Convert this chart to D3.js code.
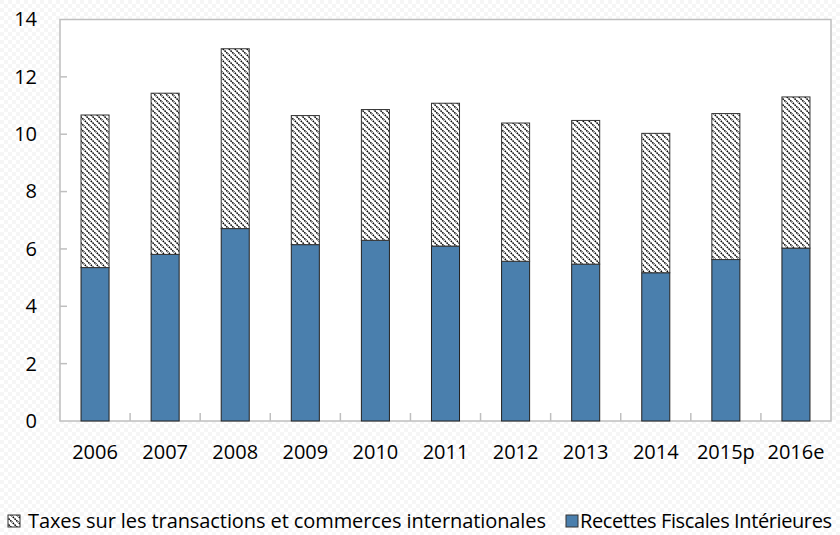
<!DOCTYPE html>
<html>
<head>
<meta charset="utf-8">
<script src="https://cdn.jsdelivr.net/npm/d3@7"></script>
<style>
  body { margin: 0; background: #fff; }
  svg text { font-family: "Open Sans", "Noto Sans", sans-serif; fill: #000; }
</style>
</head>
<body>
<div id="chart"></div>
<script>
// Données
const years = ["2006", "2007", "2008", "2009", "2010", "2011", "2012", "2013", "2014", "2015p", "2016e"];
const recettesInterieures = [5.35, 5.81, 6.71, 6.15, 6.30, 6.10, 5.57, 5.47, 5.17, 5.63, 6.03];
const totaux = [10.67, 11.43, 12.98, 10.65, 10.86, 11.08, 10.39, 10.48, 10.03, 10.72, 11.30];
const taxesCommerce = totaux.map((t, i) => +(t - recettesInterieures[i]).toFixed(2));
const yTicks = [0, 2, 4, 6, 8, 10, 12, 14];
const legendLabels = ["Taxes sur les transactions et commerces internationales", "Recettes Fiscales Intérieures"];

const width = 840, height = 535;
const plot = { left: 60, right: 831, top: 19.5, bottom: 421 };
const blue = "#4a7fad";

const svg = d3.select("#chart")
  .append("svg")
  .attr("width", width)
  .attr("height", height);

const defs = svg.append("defs");

// Fond texturé léger
const bg = defs.append("pattern")
  .attr("id", "bg")
  .attr("width", 8).attr("height", 8)
  .attr("patternUnits", "userSpaceOnUse");
bg.append("rect").attr("width", 8).attr("height", 8).attr("fill", "#fff");
bg.append("rect").attr("width", 4).attr("height", 4).attr("fill", "#f6f6f6");
bg.append("rect").attr("x", 4).attr("y", 4).attr("width", 4).attr("height", 4).attr("fill", "#f6f6f6");

// Hachures (diagonales descendantes)
const hatch = defs.append("pattern")
  .attr("id", "hatch")
  .attr("width", 6).attr("height", 6)
  .attr("patternUnits", "userSpaceOnUse");
hatch.append("rect").attr("width", 6).attr("height", 6).attr("fill", "#fff");
hatch.append("path")
  .attr("d", "M-1,-1 L7,7 M-4,2 L2,8 M4,-2 L8,2")
  .attr("stroke", "#000")
  .attr("stroke-width", 1.5)
  .attr("stroke-dasharray", "1.6,0.9");

svg.append("rect")
  .attr("width", width).attr("height", height)
  .attr("fill", "url(#bg)");

svg.append("rect")
  .attr("x", plot.left).attr("y", plot.top)
  .attr("width", plot.right - plot.left)
  .attr("height", plot.bottom - plot.top)
  .attr("fill", "#fff")
  .attr("stroke", "#bfbfbf")
  .attr("stroke-width", 1.5);

// Échelles
const x = d3.scaleBand()
  .domain(years)
  .range([plot.left, plot.right])
  .paddingInner(0.6)
  .paddingOuter(0.3);

const y = d3.scaleLinear()
  .domain([0, 14])
  .range([plot.bottom, plot.top]);

// Axe Y
const yAxis = svg.append("g")
  .attr("transform", `translate(${plot.left},0)`)
  .call(d3.axisLeft(y).tickValues(yTicks).tickSize(0).tickPadding(23));
yAxis.select(".domain").remove();
yAxis.selectAll("text").attr("font-size", "20px");

svg.selectAll(".ytick")
  .data(yTicks.filter(d => d > 0 && d < 14))
  .enter()
  .append("line")
  .attr("x1", plot.left).attr("x2", plot.left + 7)
  .attr("y1", d => y(d)).attr("y2", d => y(d))
  .attr("stroke", "#bfbfbf").attr("stroke-width", 1.5);

// Axe X
const xAxis = svg.append("g")
  .attr("transform", `translate(0,${plot.bottom})`)
  .call(d3.axisBottom(x).tickSize(0).tickPadding(24));
xAxis.select(".domain").remove();
xAxis.selectAll("text").attr("font-size", "20px");

svg.selectAll(".xtick")
  .data(years.slice(1))
  .enter()
  .append("line")
  .attr("x1", d => x(d) - x.step() * x.paddingInner() / 2)
  .attr("x2", d => x(d) - x.step() * x.paddingInner() / 2)
  .attr("y1", plot.bottom).attr("y2", plot.bottom - 8)
  .attr("stroke", "#bfbfbf").attr("stroke-width", 1.5);

// Barres empilées
svg.selectAll(".bar-int")
  .data(years)
  .enter()
  .append("rect")
  .attr("x", d => x(d))
  .attr("y", (d, i) => y(recettesInterieures[i]))
  .attr("width", x.bandwidth())
  .attr("height", (d, i) => y(0) - y(recettesInterieures[i]))
  .attr("fill", blue)
  .attr("stroke", "#222")
  .attr("stroke-width", 1);

svg.selectAll(".bar-tax")
  .data(years)
  .enter()
  .append("rect")
  .attr("x", d => x(d))
  .attr("y", (d, i) => y(recettesInterieures[i] + taxesCommerce[i]))
  .attr("width", x.bandwidth())
  .attr("height", (d, i) => y(recettesInterieures[i]) - y(recettesInterieures[i] + taxesCommerce[i]))
  .attr("fill", "url(#hatch)")
  .attr("stroke", "#333")
  .attr("stroke-width", 1);

// Légende
const legend = svg.append("g");
const legendItems = [
  { label: legendLabels[0], fill: "url(#hatch)", x: 8, tx: 28 },
  { label: legendLabels[1], fill: blue, x: 566, tx: 580 }
];
legendItems.forEach(item => {
  legend.append("rect")
    .attr("x", item.x).attr("y", 515)
    .attr("width", 12).attr("height", 12)
    .attr("fill", item.fill)
    .attr("stroke", "#333").attr("stroke-width", 1);
  legend.append("text")
    .attr("x", item.tx).attr("y", 528)
    .attr("font-size", "20px")
    .attr("textLength", item.tx === 28 ? 518 : 252)
    .text(item.label);
});
</script>
</body>
</html>
